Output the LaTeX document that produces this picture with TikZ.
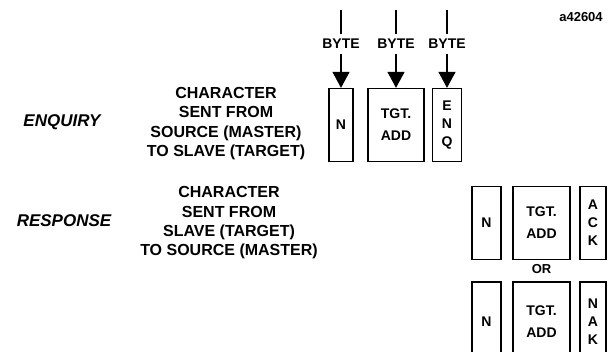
\documentclass[tikz,border=0pt]{standalone}
\usepackage{fontspec}
\setmainfont{Liberation Sans}
\usetikzlibrary{arrows.meta,positioning}
\tikzset{
  cellbox/.style={draw, line width=1.3pt, inner sep=0pt, align=center,
                  minimum height=73pt, font=\bfseries\fontsize{14}{18}\selectfont},
  bytelbl/.style={inner sep=5pt, font=\bfseries\fontsize{14}{16}\selectfont},
  msgtext/.style={align=center, inner sep=0pt, font=\bfseries\fontsize{16}{19.3}\selectfont},
  kindtext/.style={inner sep=0pt, font=\bfseries\itshape\fontsize{17}{19}\selectfont},
  arr/.style={-{Triangle[length=16pt,width=17pt]}, line width=1.3pt},
  feed/.style={line width=1.3pt}}
\begin{document}
\begin{tikzpicture}[x=1pt,y=-1pt]
  \clip (0,0) rectangle (609,352);
  \fill[white] (0,0) rectangle (609,352);
  % figure tag
  \node[inner sep=0pt, font=\bfseries\fontsize{13}{15}\selectfont] (tag) at (581,17) {a42604};
  % enquiry
  \node[kindtext] (enq) at (62,122) {ENQUIRY};
  \node[msgtext] (enqmsg) at (226,123.5)
    {CHARACTER\\SENT FROM\\SOURCE (MASTER)\\TO SLAVE (TARGET)};
  \node[cellbox, minimum width=24pt] (en) at (341,125) {N};
  \node[cellbox, minimum width=56pt] (eadd) at (396,125) {TGT.\\[4pt]ADD};
  \node[cellbox, minimum width=29pt] (eenq) at (447,125) {E\\N\\Q};
  \coordinate (t1) at (341,10);
  \coordinate (t2) at (396,10);
  \coordinate (t3) at (447,10);
  \node[bytelbl] (b1) at (341,44) {BYTE};
  \node[bytelbl] (b2) at (396,44) {BYTE};
  \node[bytelbl] (b3) at (447,44) {BYTE};
  \draw[feed] (t1) -- (b1.north);
  \draw[feed] (t2) -- (b2.north);
  \draw[feed] (t3) -- (b3.north);
  \draw[arr] (b1.south) -- (en.north);
  \draw[arr] (b2.south) -- (eadd.north);
  \draw[arr] (b3.south) -- (eenq.north);
  % response
  \node[kindtext] (rsp) at (64,221) {RESPONSE};
  \node[msgtext] (rspmsg) at (229,223)
    {CHARACTER\\SENT FROM\\SLAVE (TARGET)\\TO SOURCE (MASTER)};
  \node[cellbox, minimum width=29pt] (rn) at (486.5,223) {N};
  \node[cellbox, minimum width=57pt] (radd) at (541.5,223) {TGT.\\[4pt]ADD};
  \node[cellbox, minimum width=26pt] (rack) at (593,223) {A\\C\\K};
  \node[bytelbl, inner sep=1pt, font=\bfseries\fontsize{13}{15}\selectfont] (or) at (541.5,269) {OR};
  \node[cellbox, minimum width=29pt, minimum height=80pt] (nn) at (486.5,322) {N};
  \node[cellbox, minimum width=57pt, minimum height=80pt] (nadd) at (541.5,322) {TGT.\\[4pt]ADD};
  \node[cellbox, minimum width=26pt, minimum height=80pt] (nnak) at (593,322) {N\\A\\K};
\end{tikzpicture}
\end{document}
